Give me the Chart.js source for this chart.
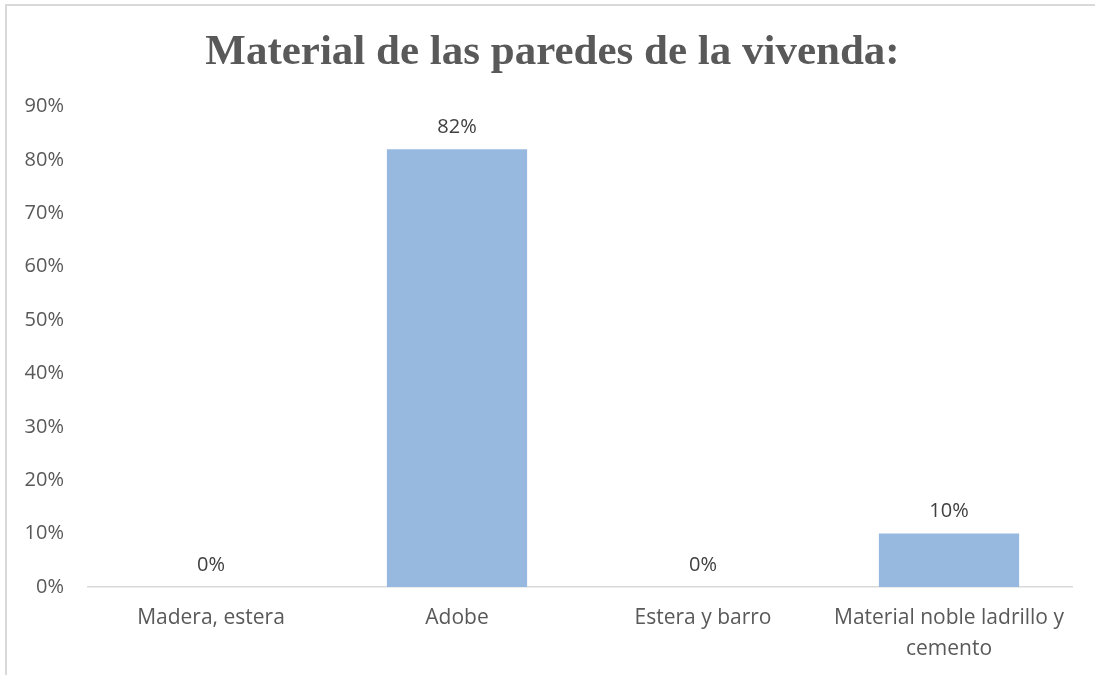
<!DOCTYPE html>
<html>
<head>
<meta charset="utf-8">
<script src="https://cdn.jsdelivr.net/npm/chart.js@4"></script>
<style>
  body { margin: 0; background: #fff; }
  .frame {
    position: absolute; left: 5px; top: 4px;
    border-top: 2px solid #d9d9d9; border-left: 2px solid #d9d9d9;
  }
  canvas { display: block; }
</style>
</head>
<body>
<div class="frame"><canvas id="wallChart" width="1088" height="669"></canvas></div>
<script>
const categories = ['Madera, estera', 'Adobe', 'Estera y barro', ['Material noble ladrillo y', 'cemento']];
const percents = [0, 82, 0, 10];
const yTicks = [0, 10, 20, 30, 40, 50, 60, 70, 80, 90];

const textGray = '#595959';
const bodyFont = '"Open Sans", sans-serif';

// value labels above each bar, positioned from the bar elements
const barLabels = {
    id: 'barLabels',
    afterLayout(chart) {
        // title sits a little right of the canvas centre
        chart.titleBlock.left += 26;
    },
    afterDatasetsDraw(chart) {
        const ctx = chart.ctx;
        const meta = chart.getDatasetMeta(0);
        ctx.save();
        ctx.font = '20px ' + bodyFont;
        ctx.fillStyle = '#404040';
        ctx.textAlign = 'center';
        ctx.textBaseline = 'middle';
        meta.data.forEach((bar, i) => {
            ctx.fillText(percents[i] + '%', bar.x, bar.y - 22);
        });
        ctx.restore();
    }
};

new Chart(document.getElementById('wallChart').getContext('2d'), {
    type: 'bar',
    data: {
        labels: categories,
        datasets: [{
            data: percents,
            backgroundColor: '#97b8df',
            barPercentage: 0.57,
            categoryPercentage: 1
        }]
    },
    options: {
        responsive: false,
        animation: false,
        layout: { padding: { left: 0, right: 23, top: 0, bottom: 0 } },
        plugins: {
            legend: { display: false },
            tooltip: { enabled: false },
            title: {
                display: true,
                text: 'Material de las paredes de la vivenda:',
                color: textGray,
                font: { family: '"Liberation Serif", serif', size: 43, weight: 'bold' },
                padding: { top: 21, bottom: 28 }
            }
        },
        scales: {
            x: {
                grid: { drawOnChartArea: false, drawTicks: false },
                border: { color: '#d9d9d9', width: 1.5 },
                ticks: {
                    color: textGray,
                    padding: 16,
                    maxRotation: 0,
                    autoSkip: false,
                    font: { family: bodyFont, size: 21, lineHeight: 1.45 }
                },
                afterFit(scale) { scale.height = 88; }
            },
            y: {
                min: 0,
                max: 90,
                grid: { display: false, drawTicks: false },
                border: { display: false },
                afterBuildTicks(scale) { scale.ticks = yTicks.map(v => ({ value: v })); },
                ticks: {
                    color: textGray,
                    padding: 24,
                    font: { family: bodyFont, size: 20 },
                    callback: v => v + '%'
                },
                afterFit(scale) { scale.width = 81; }
            }
        }
    },
    plugins: [barLabels]
});
</script>
</body>
</html>
